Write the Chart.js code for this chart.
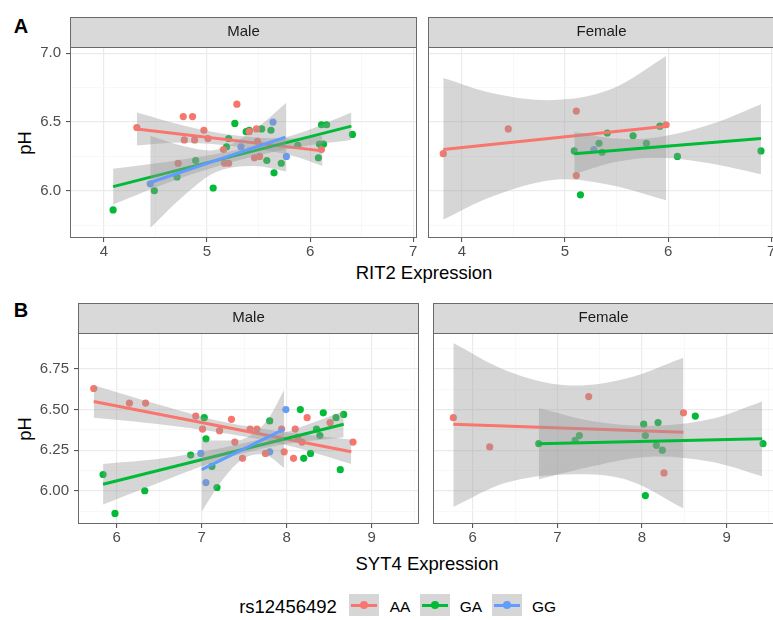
<!DOCTYPE html>
<html lang="en">
<head>
<meta charset="UTF-8">
<title>pH vs RIT2 / SYT4 expression</title>
<script src="https://cdn.jsdelivr.net/npm/chart.js"></script>
<style>
  html, body { margin: 0; padding: 0; background: #fff; width: 773px; height: 620px; overflow: hidden; }
  body { position: relative; font-family: "Liberation Sans", Arial, sans-serif; }
  canvas { position: absolute; }
  .t { position: absolute; white-space: nowrap; color: #000; transform: translate(-50%, -50%); line-height: 1; }
  .key { position: absolute; top: 594px; width: 30px; height: 22px; background: #D6D6D6; }
  .key i { position: absolute; left: 2px; right: 2px; top: 9.5px; height: 3px; }
  .key b { position: absolute; left: 11px; top: 7px; width: 8px; height: 8px; border-radius: 50%; }
</style>
</head>
<body>
<div class="t" style="left:21px; top:26px; font-size:20px; font-weight:bold;">A</div>
<div class="t" style="left:21px; top:310px; font-size:20px; font-weight:bold;">B</div>
<div class="t" style="left:25px; top:143px; font-size:18.5px; transform:translate(-50%,-50%) rotate(-90deg);">pH</div>
<div class="t" style="left:25px; top:429px; font-size:18.5px; transform:translate(-50%,-50%) rotate(-90deg);">pH</div>
<div class="t" style="left:424px; top:273px; font-size:18.5px;">RIT2 Expression</div>
<div class="t" style="left:427px; top:564px; font-size:18.5px;">SYT4 Expression</div>

<div class="t" style="left:288px; top:607px; font-size:18.5px;">rs12456492</div>
<div class="key" style="left:349px;"><i style="background:#F8766D"></i><b style="background:#F8766D"></b></div>
<div class="t" style="left:400px; top:607px; font-size:15.5px;">AA</div>
<div class="key" style="left:420px;"><i style="background:#00BA38"></i><b style="background:#00BA38"></b></div>
<div class="t" style="left:471px; top:607px; font-size:15.5px;">GA</div>
<div class="key" style="left:492px;"><i style="background:#619CFF"></i><b style="background:#619CFF"></b></div>
<div class="t" style="left:544px; top:607px; font-size:15.5px;">GG</div>

<script>
// genotype colours (ggplot defaults)
const colors = { AA: '#F8766D', GA: '#00BA38', GG: '#619CFF' };

// ---- axes, panel A (RIT2) ----
const rit2XMajor = [4, 5, 6, 7];
const rit2XMinor = [4.5, 5.5, 6.5];
const rit2XLabels = ['4', '5', '6', '7'];
const phAMajor = [6.0, 6.5, 7.0];
const phAMinor = [5.75, 6.25, 6.75];
const phALabels = ['6.0', '6.5', '7.0'];

// ---- axes, panel B (SYT4) ----
const syt4XMajor = [6, 7, 8, 9];
const syt4XMinor = [6.5, 7.5, 8.5, 9.5];
const syt4XLabels = ['6', '7', '8', '9'];
const phBMajor = [6.0, 6.25, 6.5, 6.75];
const phBMinor = [5.875, 6.125, 6.375, 6.625, 6.875];
const phBLabels = ['6.00', '6.25', '6.50', '6.75'];

// ---- A / Male ----
const aMaleAA = [[4.32,6.46],[4.77,6.54],[4.86,6.54],[4.78,6.37],[4.88,6.37],[4.97,6.44],[5.01,6.38],[4.72,6.20],
  [5.17,6.20],[5.21,6.20],[5.16,6.30],[5.29,6.63],[5.46,6.24],[5.51,6.25],[5.48,6.45],[5.41,6.43],[5.49,6.36],[6.11,6.30]];
const aMaleGA = [[4.09,5.86],[4.49,6.00],[4.71,6.10],[4.89,6.22],[5.06,6.02],[5.27,6.49],[5.19,6.32],[5.21,6.38],
  [5.38,6.43],[5.41,6.44],[5.53,6.45],[5.62,6.44],[5.58,6.22],[5.65,6.13],[5.72,6.20],[5.88,6.33],[6.09,6.34],
  [6.13,6.34],[6.08,6.24],[6.11,6.48],[6.16,6.48],[6.41,6.41]];
const aMaleGG = [[4.45,6.05],[5.33,6.32],[5.64,6.50],[5.77,6.25]];
const aMaleAAFit = [[4.32,6.45],[6.12,6.29]];
const aMaleGAFit = [[4.09,6.03],[6.40,6.47]];
const aMaleGGFit = [[4.45,6.06],[5.76,6.39]];
const aMaleAABand = { x: [4.32,4.8,5.3,5.8,6.12], lo: [6.33,6.35,6.32,6.26,6.18], hi: [6.57,6.47,6.40,6.38,6.40] };
const aMaleGABand = { x: [4.09,4.7,5.3,5.9,6.40], lo: [5.90,6.08,6.22,6.32,6.37], hi: [6.16,6.22,6.30,6.42,6.57] };
const aMaleGGBand = { x: [4.45,4.8,5.1,5.45,5.77], lo: [5.73,5.98,6.14,6.18,6.14], hi: [6.40,6.32,6.30,6.44,6.64] };

// ---- A / Female ----
const aFemAA = [[3.82,6.27],[4.45,6.45],[5.11,6.58],[5.11,6.11],[5.98,6.48]];
const aFemGA = [[5.09,6.29],[5.15,5.97],[5.33,6.345],[5.36,6.28],[5.41,6.42],[5.66,6.40],[5.79,6.345],
  [5.92,6.47],[6.09,6.25],[6.90,6.29]];
const aFemGG = [[5.28,6.30]];
const aFemAAFit = [[3.82,6.30],[5.98,6.47]];
const aFemGAFit = [[5.09,6.27],[6.90,6.38]];
const aFemAABand = { x: [3.82,4.3,4.9,5.45,5.98], lo: [5.79,5.96,6.08,6.04,5.93], hi: [6.82,6.71,6.66,6.74,6.98] };
const aFemGABand = { x: [5.09,5.5,5.9,6.4,6.90], lo: [6.12,6.21,6.24,6.20,6.12], hi: [6.43,6.38,6.39,6.48,6.63] };

// ---- B / Male ----
const bMaleAA = [[5.73,6.63],[6.15,6.54],[6.34,6.54],[6.93,6.46],[7.01,6.38],[7.21,6.37],[7.35,6.44],[7.39,6.30],
  [7.48,6.20],[7.57,6.38],[7.65,6.38],[7.75,6.23],[7.97,6.24],[7.94,6.38],[8.08,6.20],[8.10,6.38],[8.13,6.33],
  [8.18,6.30],[8.24,6.45],[8.51,6.42],[8.78,6.30]];
const bMaleGA = [[5.84,6.10],[5.98,5.86],[6.33,6.00],[6.87,6.22],[7.03,6.45],[7.05,6.32],[7.12,6.15],[7.18,6.02],
  [7.80,6.43],[8.16,6.50],[8.20,6.20],[8.28,6.23],[8.43,6.48],[8.35,6.38],[8.39,6.34],[8.58,6.45],[8.67,6.47],[8.63,6.13]];
const bMaleGG = [[6.99,6.23],[7.05,6.05],[7.80,6.24],[7.99,6.50]];
const bMaleAAFit = [[5.73,6.55],[8.76,6.24]];
const bMaleGAFit = [[5.84,6.04],[8.67,6.41]];
const bMaleGGFit = [[7.00,6.13],[7.97,6.38]];
const bMaleAABand = { x: [5.73,6.5,7.25,8.0,8.76], lo: [6.45,6.41,6.355,6.28,6.165], hi: [6.65,6.53,6.425,6.36,6.315] };
const bMaleGABand = { x: [5.84,6.55,7.25,7.95,8.67], lo: [5.915,6.06,6.195,6.285,6.33], hi: [6.165,6.20,6.265,6.355,6.49] };
const bMaleGGBand = { x: [7.0,7.25,7.5,7.75,7.97], lo: [5.87,6.07,6.20,6.22,6.14], hi: [6.31,6.31,6.32,6.42,6.62] };

// ---- B / Female ----
const bFemAA = [[5.77,6.45],[6.20,6.27],[7.37,6.58],[8.49,6.48],[8.26,6.11]];
const bFemGA = [[6.78,6.29],[7.21,6.31],[7.26,6.34],[8.02,6.41],[8.04,6.34],[8.19,6.42],[8.17,6.28],[8.24,6.25],
  [8.04,5.97],[8.63,6.46],[9.43,6.29]];
const bFemAAFit = [[5.77,6.41],[8.49,6.36]];
const bFemGAFit = [[6.78,6.29],[9.42,6.32]];
const bFemAABand = { x: [5.77,6.4,7.1,7.8,8.49], lo: [5.90,6.05,6.10,6.07,5.89], hi: [6.91,6.74,6.65,6.69,6.82] };
const bFemGABand = { x: [6.78,7.4,8.1,8.8,9.42], lo: [6.07,6.15,6.21,6.18,6.09], hi: [6.51,6.43,6.40,6.44,6.55] };

// strip on top + full panel border (theme_bw look)
const facetPlugin = {
  id: 'facet',
  afterDraw(chart, args, opts) {
    const { ctx, chartArea: a } = chart;
    ctx.save();
    ctx.fillStyle = '#D9D9D9';
    ctx.fillRect(a.left, a.top - 30, a.right - a.left, 30);
    ctx.strokeStyle = '#6A6A6A';
    ctx.lineWidth = 1;
    ctx.strokeRect(a.left + 0.5, a.top - 30 + 0.5, a.right - a.left - 1, 30);
    ctx.strokeRect(a.left + 0.5, a.top + 0.5, a.right - a.left - 1, a.bottom - a.top - 1);
    ctx.fillStyle = '#1A1A1A';
    ctx.font = '15px "Liberation Sans", Arial, sans-serif';
    ctx.textAlign = 'center';
    ctx.textBaseline = 'middle';
    ctx.fillText(opts.label, (a.left + a.right) / 2, a.top - 15);
    ctx.restore();
  }
};

function scaleOpts(min, max, majors, minors, labels, showLabels, fitSize, isY) {
  const all = majors.concat(minors).sort((a, b) => a - b);
  const isMajor = c => c.tick && majors.includes(c.tick.value);
  return {
    type: 'linear', min: min, max: max,
    afterBuildTicks: s => { s.ticks = all.map(v => ({ value: v })); },
    afterFit: s => { if (isY) s.width = fitSize; else s.height = fitSize; },
    ticks: {
      display: showLabels, autoSkip: false, maxRotation: 0, minRotation: 0,
      padding: isY ? 5 : 1, color: '#4D4D4D',
      font: { family: '"Liberation Sans", Arial, sans-serif', size: 15 },
      callback: v => { const i = majors.indexOf(v); return i < 0 ? '' : labels[i]; }
    },
    grid: {
      color: c => isMajor(c) ? '#EBEBEB' : '#F5F5F5',
      lineWidth: c => isMajor(c) ? 1.2 : 0.7,
      drawTicks: showLabels, tickLength: 4, tickWidth: 1,
      tickColor: c => isMajor(c) ? '#444' : 'rgba(0,0,0,0)'
    },
    border: { display: false }
  };
}

function pts(arr) { return arr.map(p => ({ x: p[0], y: p[1] })); }

function makePanel(box, xScale, yScale, strip, groups) {
  const cv = document.createElement('canvas');
  cv.width = box.w; cv.height = box.h;
  cv.style.left = box.l + 'px'; cv.style.top = box.t + 'px';
  document.body.appendChild(cv);

  const datasets = [];
  groups.forEach(g => {
    datasets.push({
      type: 'scatter', data: pts(g.pts), backgroundColor: colors[g.key],
      pointRadius: 3.6, pointHoverRadius: 3.6, pointBorderWidth: 0, order: 100
    });
  });
  groups.forEach((g, i) => {
    if (!g.fit) return;
    const o = 60 - i * 20;
    datasets.push({
      type: 'line', data: g.band.x.map((x, j) => ({ x: x, y: g.band.lo[j] })),
      borderColor: 'rgba(0,0,0,0)', borderWidth: 0, pointRadius: 0, fill: false, tension: 0.35, order: o
    });
    datasets.push({
      type: 'line', data: g.band.x.map((x, j) => ({ x: x, y: g.band.hi[j] })),
      borderColor: 'rgba(0,0,0,0)', borderWidth: 0, pointRadius: 0, fill: '-1',
      backgroundColor: 'rgba(153,153,153,0.4)', tension: 0.35, order: o
    });
    datasets.push({
      type: 'line', data: pts(g.fit), borderColor: colors[g.key], borderWidth: 3,
      pointRadius: 0, fill: false, order: o - 10
    });
  });

  new Chart(cv, {
    type: 'scatter',
    data: { datasets: datasets },
    options: {
      responsive: false, animation: false, events: [], devicePixelRatio: 1,
      layout: { padding: { left: 10, right: 10, top: box.pt, bottom: 0 } },
      plugins: { legend: { display: false }, tooltip: { enabled: false }, facet: { label: strip } },
      scales: { x: xScale, y: yScale }
    },
    plugins: [facetPlugin]
  });
}

// panel A, Male
makePanel({ l: 0, t: 0, w: 427, h: 260, pt: 47 },
  scaleOpts(3.672, 7.036, rit2XMajor, rit2XMinor, rit2XLabels, true, 22, false),
  scaleOpts(5.656, 7.046, phAMajor, phAMinor, phALabels, true, 60, true),
  'Male',
  [{ key: 'AA', pts: aMaleAA, fit: aMaleAAFit, band: aMaleAABand },
   { key: 'GA', pts: aMaleGA, fit: aMaleGAFit, band: aMaleGABand },
   { key: 'GG', pts: aMaleGG, fit: aMaleGGFit, band: aMaleGGBand }]);

// panel A, Female
makePanel({ l: 418, t: 0, w: 367, h: 260, pt: 47 },
  scaleOpts(3.672, 7.036, rit2XMajor, rit2XMinor, rit2XLabels, true, 22, false),
  scaleOpts(5.656, 7.046, phAMajor, phAMinor, phALabels, false, 0, true),
  'Female',
  [{ key: 'AA', pts: aFemAA, fit: aFemAAFit, band: aFemAABand },
   { key: 'GA', pts: aFemGA, fit: aFemGAFit, band: aFemGABand },
   { key: 'GG', pts: aFemGG }]);

// panel B, Male
makePanel({ l: 0, t: 290, w: 429, h: 256, pt: 43 },
  scaleOpts(5.545, 9.556, syt4XMajor, syt4XMinor, syt4XLabels, true, 22, false),
  scaleOpts(5.795, 6.972, phBMajor, phBMinor, phBLabels, true, 68, true),
  'Male',
  [{ key: 'AA', pts: bMaleAA, fit: bMaleAAFit, band: bMaleAABand },
   { key: 'GA', pts: bMaleGA, fit: bMaleGAFit, band: bMaleGABand },
   { key: 'GG', pts: bMaleGG, fit: bMaleGGFit, band: bMaleGGBand }]);

// panel B, Female
makePanel({ l: 423, t: 290, w: 361, h: 256, pt: 43 },
  scaleOpts(5.53, 9.56, syt4XMajor, syt4XMinor, syt4XLabels, true, 22, false),
  scaleOpts(5.795, 6.972, phBMajor, phBMinor, phBLabels, false, 0, true),
  'Female',
  [{ key: 'AA', pts: bFemAA, fit: bFemAAFit, band: bFemAABand },
   { key: 'GA', pts: bFemGA, fit: bFemGAFit, band: bFemGABand }]);
</script>
</body>
</html>
